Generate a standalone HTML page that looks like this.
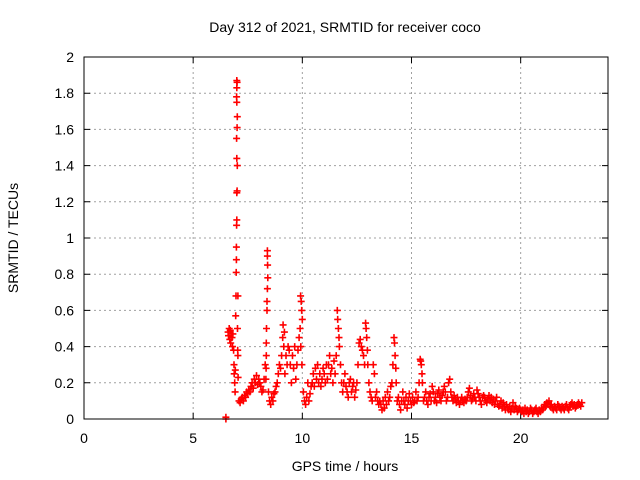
<!DOCTYPE html>
<html><head><meta charset="utf-8"><style>
body{margin:0;background:#fff}
svg{display:block;font-family:"Liberation Sans",sans-serif}
</style></head><body>
<svg id="chart" width="640" height="480" viewBox="0 0 640 480">
<rect width="640" height="480" fill="#fff"/>
<text x="345" y="32" font-size="14" text-anchor="middle" fill="#000">Day 312 of 2021, SRMTID for receiver coco</text>
<g id="grid"></g>
<g id="axes"></g>
<g id="marks"></g>
<rect x="84" y="57" width="524" height="362" fill="none" stroke="#000" stroke-width="1"/>
<text x="345" y="471" font-size="14" text-anchor="middle">GPS time / hours</text>
<text transform="translate(18,238) rotate(-90)" font-size="14" text-anchor="middle">SRMTID / TECUs</text>
</svg>
<script>
const xTicks=[0,5,10,15,20];
const yTicks=[0,0.2,0.4,0.6,0.8,1,1.2,1.4,1.6,1.8,2];
const yTickLabels=["0","0.2","0.4","0.6","0.8","1","1.2","1.4","1.6","1.8","2"];
const times=[6.5,6.5,6.5,6.6,6.62,6.65,6.68,6.7,6.72,6.75,6.78,6.8,6.82,6.85,6.87,6.88,6.9,6.92,6.93,
6.95,6.96,6.97,6.98,6.99,7.0,7.0,7.01,7.02,7.0,6.99,7.01,7.02,7.0,6.99,7.0,7.01,7.0,6.98,7.03,7.04,7.05,7.06,7.05,
7.1,7.15,7.2,7.25,7.3,7.35,7.4,7.45,7.5,7.55,7.6,7.65,7.7,7.75,7.8,7.85,7.9,7.95,8.0,8.05,8.1,8.15,8.2,8.25,8.3,
8.35,8.38,8.4,8.4,8.41,8.42,8.4,8.38,8.36,8.35,8.34,8.33,8.45,8.5,8.55,8.6,8.65,8.7,8.75,8.8,8.85,8.9,8.95,9.0,
9.05,9.1,9.12,9.15,9.18,9.2,9.25,9.3,9.35,9.4,9.45,9.5,9.55,9.6,9.65,9.7,9.75,9.8,9.85,9.9,9.92,9.95,9.97,10.0,9.98,9.93,
10.05,10.1,10.15,10.2,10.25,10.3,10.35,10.4,10.45,10.5,10.55,10.6,10.65,10.7,10.75,10.8,10.85,10.9,10.95,11.0,11.05,11.1,11.15,11.2,11.25,11.3,11.35,11.4,11.45,11.5,
11.55,11.6,11.62,11.65,11.68,11.7,11.75,11.8,11.85,11.9,11.95,12.0,12.05,12.1,12.15,12.2,12.25,12.3,12.35,12.4,12.45,12.5,
12.55,12.6,12.65,12.7,12.75,12.8,12.85,12.9,12.92,12.95,12.98,13.0,13.05,13.1,13.15,13.2,13.25,13.3,13.35,13.4,13.45,13.5,
13.55,13.6,13.65,13.7,13.75,13.8,13.85,13.9,13.95,14.0,14.05,14.1,14.15,14.2,14.22,14.25,14.28,14.3,14.35,14.4,14.45,14.5,14.55,14.6,14.65,14.7,14.75,14.8,14.85,14.9,14.95,15.0,15.05,15.1,15.15,15.2,15.25,15.3,
15.35,15.4,15.42,15.45,15.48,15.5,15.55,15.6,15.65,15.7,15.75,15.8,15.85,15.9,15.95,16.0,16.05,16.1,16.15,16.2,16.25,16.3,16.35,16.4,16.45,16.5,16.55,16.6,16.65,16.7,16.75,16.8,16.85,16.9,16.95,17.0,17.05,17.1,
17.15,17.2,17.25,17.3,17.35,17.4,17.45,17.5,17.55,17.6,17.65,17.7,17.75,17.8,17.85,17.9,17.95,18.0,18.05,18.1,18.15,18.2,18.25,18.3,18.35,18.4,18.45,18.5,18.55,18.6,18.65,18.7,18.75,18.8,18.85,18.9,18.95,19.0,
19.05,19.1,19.15,19.2,19.25,19.3,19.35,19.4,19.45,19.5,19.55,19.6,19.65,19.7,19.75,19.8,19.85,19.9,19.95,20.0,20.05,20.1,20.15,20.2,20.25,20.3,20.35,20.4,20.45,20.5,20.55,20.6,20.65,20.7,20.75,20.8,20.85,20.9,20.95,21.0,
21.05,21.1,21.15,21.2,21.25,21.3,21.35,21.4,21.45,21.5,21.55,21.6,21.65,21.7,21.75,21.8,21.85,21.9,21.95,22.0,22.05,22.1,22.15,22.2,22.25,22.3,22.35,22.4,22.45,22.5,22.55,22.6,22.65,22.7,22.75,22.8];
const values=[0.0,0.01,0.0,0.48,0.46,0.5,0.44,0.49,0.42,0.47,0.45,0.4,0.47,0.38,0.3,0.25,0.2,0.15,0.27,
0.57,0.68,0.81,0.95,1.07,1.1,1.25,1.26,1.4,1.44,1.55,1.61,1.67,1.75,1.78,1.83,1.86,1.87,0.88,0.5,0.38,0.35,0.23,0.68,
0.1,0.09,0.11,0.12,0.1,0.13,0.12,0.15,0.14,0.16,0.15,0.18,0.2,0.17,0.22,0.2,0.24,0.19,0.22,0.2,0.18,0.15,0.16,0.22,0.3,
0.42,0.6,0.93,0.9,0.85,0.78,0.72,0.65,0.5,0.35,0.28,0.22,0.15,0.1,0.08,0.12,0.1,0.14,0.15,0.18,0.2,0.25,0.3,0.28,
0.35,0.45,0.52,0.4,0.48,0.25,0.35,0.3,0.4,0.38,0.3,0.2,0.35,0.28,0.4,0.22,0.3,0.38,0.45,0.5,0.68,0.65,0.6,0.55,0.3,0.4,
0.15,0.1,0.08,0.12,0.2,0.1,0.14,0.18,0.2,0.25,0.18,0.28,0.22,0.3,0.2,0.25,0.18,0.22,0.28,0.25,0.2,0.3,0.22,0.3,0.35,0.25,0.28,0.2,0.32,0.25,
0.35,0.6,0.55,0.5,0.45,0.4,0.3,0.2,0.15,0.2,0.25,0.18,0.15,0.12,0.2,0.22,0.15,0.18,0.2,0.12,0.16,0.2,
0.3,0.42,0.44,0.4,0.38,0.35,0.3,0.53,0.5,0.45,0.38,0.3,0.2,0.15,0.12,0.1,0.3,0.25,0.12,0.15,0.1,0.08,
0.1,0.08,0.05,0.1,0.06,0.12,0.08,0.15,0.1,0.12,0.18,0.2,0.3,0.45,0.42,0.35,0.28,0.2,0.1,0.12,0.08,0.05,0.1,0.15,0.1,0.08,0.12,0.06,0.1,0.14,0.1,0.08,0.12,0.09,0.1,0.15,0.1,0.12,
0.2,0.33,0.32,0.3,0.25,0.2,0.1,0.12,0.15,0.1,0.08,0.12,0.14,0.1,0.18,0.15,0.1,0.12,0.09,0.14,0.16,0.12,0.1,0.13,0.15,0.18,0.15,0.1,0.12,0.2,0.22,0.15,0.12,0.1,0.13,0.11,0.09,0.12,
0.1,0.08,0.1,0.12,0.1,0.09,0.11,0.1,0.12,0.15,0.17,0.13,0.1,0.11,0.14,0.12,0.1,0.16,0.14,0.12,0.1,0.08,0.12,0.13,0.12,0.1,0.09,0.11,0.13,0.1,0.12,0.09,0.11,0.08,0.1,0.12,0.08,0.07,
0.08,0.1,0.06,0.09,0.07,0.05,0.08,0.06,0.05,0.07,0.04,0.06,0.09,0.05,0.07,0.06,0.04,0.05,0.06,0.05,0.04,0.05,0.03,0.06,0.04,0.05,0.03,0.04,0.06,0.05,0.03,0.04,0.05,0.06,0.04,0.03,0.05,0.04,0.06,0.05,
0.06,0.08,0.07,0.09,0.08,0.1,0.07,0.08,0.06,0.05,0.07,0.06,0.05,0.08,0.07,0.06,0.05,0.07,0.06,0.05,0.07,0.08,0.06,0.05,0.07,0.08,0.09,0.07,0.08,0.06,0.07,0.08,0.09,0.08,0.07,0.09];
const X0=84,X1=608,Y0=419,Y1=57,XMAX=24,YMAX=2;
const xs=v=>X0+(v/XMAX)*(X1-X0);
const ys=v=>Y0-(v/YMAX)*(Y0-Y1);
const NS='http://www.w3.org/2000/svg';
function mk(tag,attrs,parent){const e=document.createElementNS(NS,tag);for(const k in attrs)e.setAttribute(k,attrs[k]);parent.appendChild(e);return e;}
const grid=document.getElementById('grid'),axes=document.getElementById('axes'),marks=document.getElementById('marks');
xTicks.forEach((t,i)=>{const x=xs(t);
 if(t>0){const g=mk('line',{x1:x,x2:x,y1:Y1,y2:Y0,stroke:'#a0a0a0','stroke-dasharray':'2,3'},grid);
 
 }
 const tk=mk('path',{d:`M${x},${Y0}v-6M${x},${Y1}v6`,stroke:'#000'},axes);
 
 
 const l=mk('text',{x:x,y:443,'font-size':14,'text-anchor':'middle'},axes);l.textContent=String(t);
 
 
});
yTicks.forEach((t,i)=>{const y=ys(t);
 if(t>0&&t<YMAX){const g=mk('line',{x1:X0,x2:X1,y1:y,y2:y,stroke:'#a0a0a0','stroke-dasharray':'2,3'},grid);
 
 }
 const tk=mk('path',{d:`M${X0},${y}h6M${X1},${y}h-6`,stroke:'#000'},axes);
 
 
 const l=mk('text',{x:X0-10,y:y+5,'font-size':14,'text-anchor':'end'},axes);l.textContent=yTickLabels[i];
 
 
});
let d='';
for(let i=0;i<times.length;i++){const x=xs(times[i]),y=ys(values[i]);
 d+=`M${(x-3.5).toFixed(1)},${y.toFixed(1)}h7M${x.toFixed(1)},${(y-3.5).toFixed(1)}v7`;}
const p=mk('path',{d:d,stroke:'#ff0000','stroke-width':1.6,fill:'none'},marks);


</script>
</body></html>
